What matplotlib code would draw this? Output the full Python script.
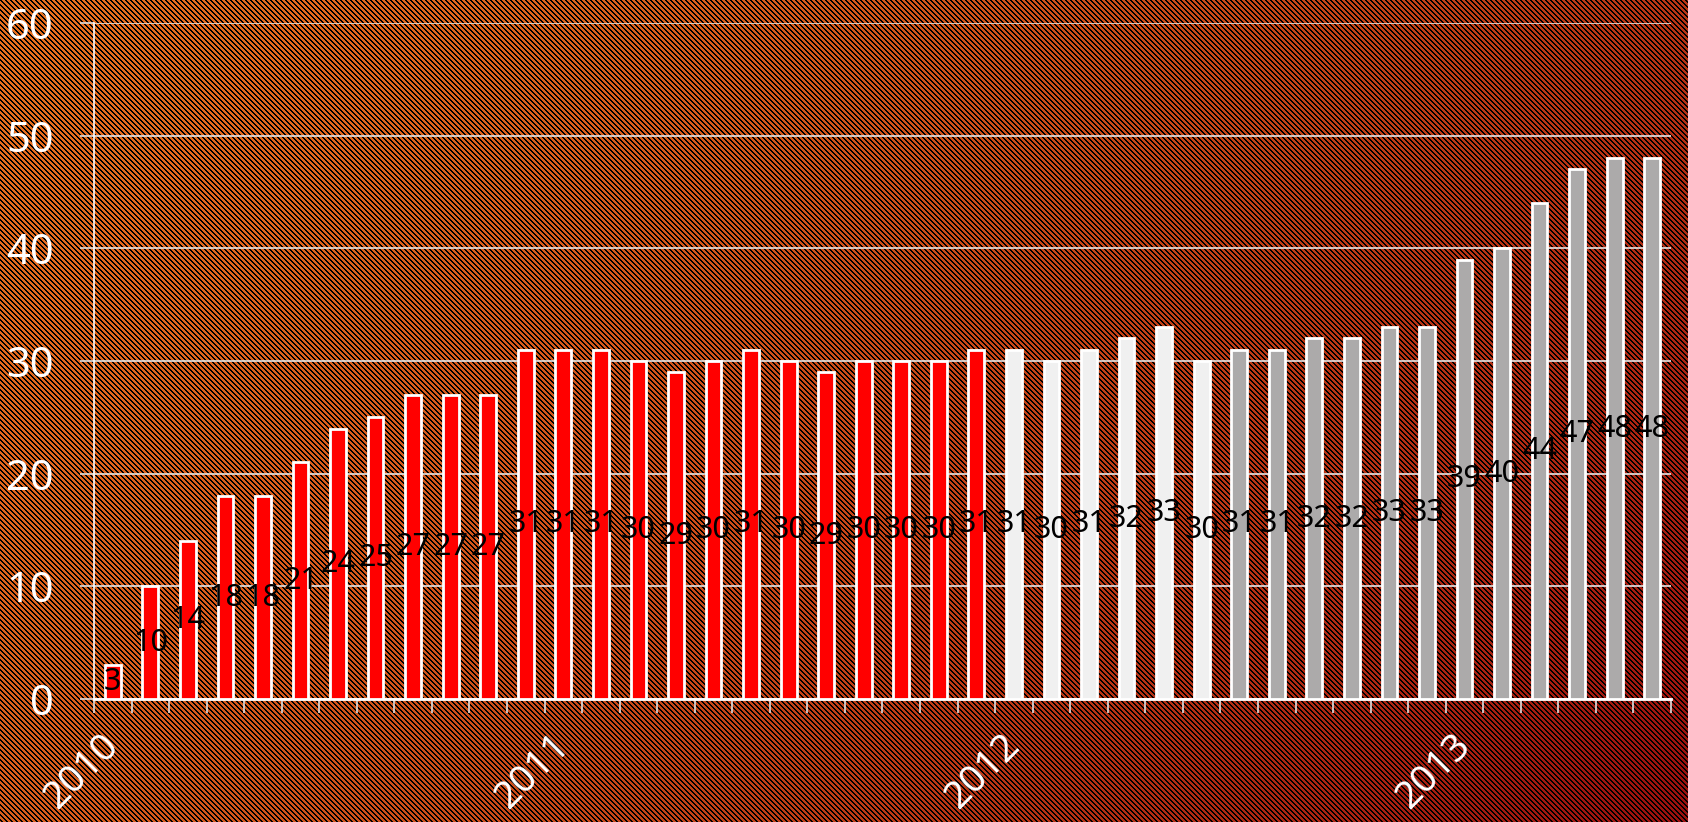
"""Monthly counts 2010-2013, bar chart on striped background"""

import matplotlib
matplotlib.use("Agg")
import matplotlib.pyplot as plt
import matplotlib.transforms as mtransforms
import numpy as np

plt.rcParams['font.family'] = ['Noto Sans', 'DejaVu Sans']

red_vals = [3, 10, 14, 18, 18, 21, 24, 25, 27, 27, 27, 31,
            31, 31, 30, 29, 30, 31, 30, 29, 30, 30, 30, 31]
white_vals = [31, 30, 31, 32, 33, 30]
gray_vals = [31, 31, 32, 32, 33, 33, 39, 40, 44, 47, 48, 48]
year_labels = ['2010', '2011', '2012', '2013']
year_pos = [0, 12, 24, 36]

values = red_vals + white_vals + gray_vals
colors = (['#ff0000'] * len(red_vals) + ['#f0f0f0'] * len(white_vals)
          + ['#acaaaa'] * len(gray_vals))
x = np.arange(len(values))

W, H = 1688, 822
fig = plt.figure(figsize=(W / 100, H / 100), dpi=100)

# striped gradient background
jj, ii = np.meshgrid(np.arange(W), np.arange(H))
t = np.clip(0.7 * jj / W + 0.3 * ii / H, 0, 1)[..., None] ** 1.4
c0 = np.array([232, 112, 32]) / 255
c1 = np.array([155, 16, 14]) / 255
bg = c0 * (1 - t) + c1 * t
stripe = ((jj - ii) % 5) < 2
bg[stripe] = 0.0
fig.figimage(bg, 0, 0, origin='upper', zorder=0)

ax = fig.add_axes([94 / W, 123 / H, (1671 - 94) / W, (799 - 123) / H])
ax.set_zorder(2)
ax.patch.set_alpha(0)

ax.bar(x, values, width=0.42, color=colors, edgecolor='white', linewidth=2, zorder=3)
for xi, v in zip(x, values):
    ax.text(xi, v / 2, str(v), ha='center', va='center', fontsize=22, color='black', zorder=4)

ax.set_xlim(-0.5, len(values) - 0.5)
ax.set_ylim(0, 60)
ax.set_yticks(np.arange(0, 61, 10))
ax.set_axisbelow(True)
ax.yaxis.grid(True, color='#e6e6e6', linewidth=1.2)

ax.set_xticks(year_pos)
ax.set_xticklabels(year_labels)
ax.set_xticks(np.arange(-0.5, len(values), 1), minor=True)
ax.tick_params(axis='x', which='major', length=0, pad=20, labelsize=28, labelcolor='white')
ax.tick_params(axis='x', which='minor', length=10, width=1.2, color='#e0e0e0', direction='out')
ax.tick_params(axis='y', length=10, width=1.2, color='#e0e0e0', pad=19,
               labelsize=30, labelcolor='white')
shift = mtransforms.ScaledTranslation(-0.13, 0, fig.dpi_scale_trans)
for lab in ax.get_xticklabels():
    lab.set_rotation(45)
    lab.set_ha('right')
    lab.set_rotation_mode('anchor')
    lab.set_transform(lab.get_transform() + shift)

for side in ['top', 'right']:
    ax.spines[side].set_visible(False)
ax.spines['left'].set_color('white')
ax.spines['left'].set_linewidth(1.2)
ax.spines['bottom'].set_color('white')
ax.spines['bottom'].set_linewidth(2)

fig.savefig('out.png', dpi=100)
